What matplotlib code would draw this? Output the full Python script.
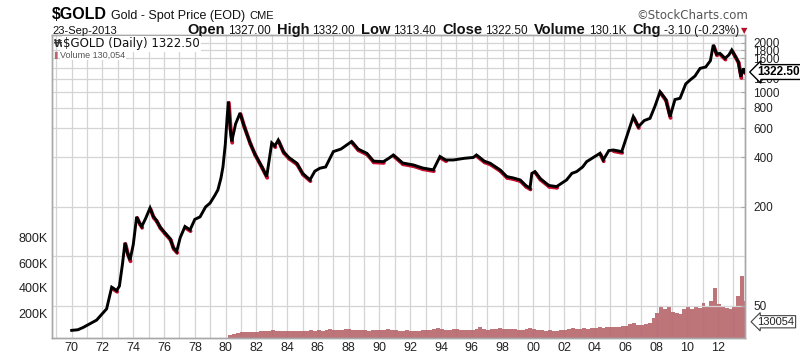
import matplotlib
matplotlib.use("Agg")
import matplotlib.pyplot as plt
import matplotlib.transforms as mtransforms
from matplotlib.collections import LineCollection
from matplotlib.ticker import FixedLocator, NullLocator
import numpy as np

# ---------------- data ----------------
price_years = [
    1970.00, 1970.40, 1970.75, 1971.20, 1971.62, 1972.00, 1972.27, 1972.60, 1972.92, 1973.10,
    1973.30, 1973.46, 1973.62, 1973.79, 1974.00, 1974.22, 1974.40, 1974.55, 1974.80, 1975.09,
    1975.30, 1975.50, 1975.74, 1976.06, 1976.40, 1976.60, 1976.82, 1977.05, 1977.36, 1977.69,
    1978.00, 1978.34, 1978.70, 1978.99, 1979.30, 1979.50, 1979.70, 1979.83, 1979.98, 1980.10,
    1980.18, 1980.30, 1980.40, 1980.65, 1980.94, 1981.20, 1981.59, 1981.90, 1982.35, 1982.67,
    1983.00, 1983.20, 1983.42, 1983.75, 1984.10, 1984.62, 1985.00, 1985.48, 1985.80, 1986.13,
    1986.50, 1987.00, 1987.50, 1988.19, 1988.60, 1989.17, 1989.60, 1990.25, 1990.60, 1990.90,
    1991.50, 1992.20, 1992.80, 1993.50, 1993.93, 1994.30, 1994.80, 1995.50, 1996.10, 1996.30,
    1996.80, 1997.18, 1997.83, 1998.26, 1998.70, 1999.13, 1999.50, 1999.78, 1999.90, 2000.10,
    2000.43, 2001.00, 2001.51, 2002.16, 2002.50, 2002.81, 2003.20, 2003.46, 2003.90, 2004.33,
    2004.54, 2004.90, 2005.19, 2005.74, 2006.06, 2006.49, 2006.82, 2007.20, 2007.58, 2007.90,
    2008.23, 2008.60, 2008.88, 2009.20, 2009.53, 2009.90, 2010.18, 2010.50, 2010.83, 2011.20,
    2011.50, 2011.69, 2011.90, 2012.12, 2012.45, 2012.70, 2012.89, 2013.10, 2013.31, 2013.48,
    2013.64, 2013.73,
]
price_close = [
    35.5, 35.8, 37.0, 39.0, 41.0, 45.0, 48.0, 65.0, 62.0, 66.0,
    90.0, 121, 105, 95, 118, 174, 160, 152, 170, 197,
    175, 166, 151, 139, 128, 113, 107, 130, 152, 145,
    168, 174, 200, 211, 235, 254, 300, 351, 480, 700,
    873, 600, 500, 640, 745, 620, 490, 420, 351, 306,
    490, 470, 510, 434, 400, 369, 320, 292, 330, 344,
    350, 434, 450, 500, 450, 424, 380, 377, 395, 414,
    370, 360, 345, 336, 405, 386, 386, 395, 400, 414,
    380, 369, 336, 306, 300, 292, 270, 260, 320, 328,
    298, 270, 266, 292, 320, 328, 350, 377, 400, 424,
    386, 440, 444, 434, 535, 708, 615, 670, 692, 820,
    1004, 900, 708, 900, 916, 1120, 1183, 1250, 1392, 1420,
    1550, 1932, 1700, 1718, 1602, 1680, 1800, 1660, 1528, 1239,
    1390, 1322.5,
]

# quarterly volume (thousands), starting at the first volume bar
volume_start_year = 1980.18
volume_k = [
    25, 35, 40, 45,   50, 48, 52, 50,   55, 60, 58, 62,   60, 58, 55, 57,
    55, 58, 60, 56,   58, 62, 60, 64,   60, 65, 70, 66,   62, 68, 75, 70,
    65, 62, 66, 64,   60, 63, 65, 62,   66, 70, 64, 62,   60, 58, 62, 60,
    58, 60, 62, 64,   68, 75, 80, 70,   66, 68, 72, 70,   64, 62, 66, 68,
    75, 90, 72, 68,   70, 74, 78, 72,   76, 72, 70, 68,   66, 70, 80, 74,
    68, 64, 60, 62,   60, 58, 64, 66,   70, 78, 74, 72,   80, 76, 84, 82,
    88, 84, 90, 92,   86, 90, 94, 100,  110, 120, 104, 108, 115, 120, 160, 200,
    260, 230, 250, 210, 200, 190, 230, 260, 230, 250, 240, 280, 260, 300, 400, 270,
    250, 240, 230, 260, 340, 500, 300, 130,
]

x_tick_years = list(range(1970, 2013, 2))
price_grid = [50, 100, 200, 400, 600, 800, 1000, 1200, 1400, 1600, 1800, 2000]
price_labels = [50, 200, 400, 600, 800, 1000, 1200, 1600, 1800, 2000]
vol_ticks_k = [200, 400, 600, 800]

last_close = "1322.50"
last_volume = "130054"

# ---------------- figure ----------------
W, H = 800, 359
fig = plt.figure(figsize=(W / 100, H / 100), dpi=100)
fig.patch.set_facecolor("white")
FONT = ["Liberation Sans", "DejaVu Sans"]
plt.rcParams["font.family"] = FONT

L, R, T, B = 52, 745, 35, 338
rect = [L / W, 1 - B / H, (R - L) / W, (B - T) / H]
axv = fig.add_axes(rect)  # volume (left axis)
axp = axv.twinx()         # price (right axis, log)

xmin, xmax = 1968.72, 2013.75
grid_c = "#d4d4d4"
spine_c = "#a8a8a8"

# volume
vol_x = [volume_start_year + 0.25 * i for i in range(len(volume_k))]
axv.bar(vol_x, [v * 1000 for v in volume_k], width=0.25, align="edge",
        color="#b6666c", edgecolor="none", alpha=0.9, zorder=2)
axv.set_xlim(xmin, xmax)
axv.set_ylim(0, (B - T) * 8000)
axv.set_yticks([v * 1000 for v in vol_ticks_k])
axv.set_yticklabels([f"{v}K" for v in vol_ticks_k], fontsize=9, color="#222222")
axv.tick_params(axis="y", length=0, pad=3)
for yr in range(1969, 2014):
    axv.axvline(yr, color=grid_c, lw=0.9, zorder=0)

# price
axp.set_yscale("log")
axp.set_ylim(31.9, 2222)
axp.set_xlim(xmin, xmax)
axp.yaxis.set_major_locator(FixedLocator(price_labels))
axp.yaxis.set_minor_locator(NullLocator())
axp.set_yticklabels([str(v) for v in price_labels], fontsize=8.5, color="#222222")
axp.tick_params(axis="y", which="major", length=3, direction="in", color=spine_c, pad=6)
for p in price_grid:
    axp.axhline(p, color=grid_c, lw=0.9, zorder=0)

# red marks on falling stretches, slightly below; black line on top
red_tr = mtransforms.offset_copy(axp.transData, fig=fig, x=0.5, y=-1.2, units="dots")
segs = [[(price_years[i], price_close[i]), (price_years[i + 1], price_close[i + 1])]
        for i in range(len(price_years) - 1) if price_close[i + 1] < price_close[i]]
lc = LineCollection(segs, colors="#c8102e", linewidths=2.8, transform=red_tr, zorder=3,
                    capstyle="round")
axp.add_collection(lc)
axp.plot(price_years, price_close, color="black", lw=2.1, zorder=4, solid_joinstyle="miter")

axv.set_xticks(x_tick_years)
axv.set_xticklabels([f"{y % 100:02d}" for y in x_tick_years], fontsize=9, color="#222222")
axv.tick_params(axis="x", length=0, pad=3)
axp.tick_params(axis="x", length=0)

for ax in (axv, axp):
    for s in ax.spines.values():
        s.set_color(spine_c)
        s.set_linewidth(1.0)

# value boxes on the right
axp.annotate(last_close, xy=(1.0, 1322.5), xycoords=("axes fraction", "data"),
             xytext=(9, 0), textcoords="offset points", va="center", ha="left",
             fontsize=8.5, fontweight="bold", color="black", zorder=10,
             bbox=dict(boxstyle="larrow,pad=0.12", fc="white", ec="black", lw=1.0))
axv.annotate(last_volume, xy=(1.0, 130054), xycoords=("axes fraction", "data"),
             xytext=(9, 0), textcoords="offset points", va="center", ha="left",
             fontsize=8, color="#222222",
             bbox=dict(boxstyle="larrow,pad=0.1", fc="white", ec="#444444", lw=0.8))

# ---------------- header texts ----------------
def fx(x):
    return x / W

def fy(y):
    return 1 - y / H

fig.canvas.draw()
renderer = fig.canvas.get_renderer()

def run(pieces, y, x0=None, x1=None):
    """Lay text pieces side by side at baseline y (pixels from top)."""
    made = []
    for s, kw, gap in pieces:
        t = fig.text(0, fy(y), s, va="baseline", **kw)
        w = t.get_window_extent(renderer).width
        made.append((t, w, gap))
    total = sum(w + g for _, w, g in made)
    cur = x0 if x0 is not None else x1 - total
    for t, w, g in made:
        t.set_x(fx(cur))
        cur += w + g

run([("$GOLD", dict(fontsize=11.5, fontweight="bold", color="black"), 4),
     ("Gold - Spot Price (EOD)", dict(fontsize=9, color="#111111"), 4),
     ("CME", dict(fontsize=8, color="#111111"), 0)], 19, x0=52)

fig.text(fx(52), fy(34), "23-Sep-2013", fontsize=8, va="baseline", color="#111111")
fig.text(fx(748), fy(19), "\u00a9StockCharts.com", fontsize=8.5, va="baseline",
         ha="right", color="#555555", family=["DejaVu Sans"])

B_ = dict(fontsize=10.5, fontweight="bold", color="#111111")
N_ = dict(fontsize=8.5, color="#111111")
run([("Open", B_, 3), ("1327.00", N_, 6), ("High", B_, 3), ("1332.00", N_, 6),
     ("Low", B_, 3), ("1313.40", N_, 6), ("Close", B_, 3), ("1322.50", N_, 6),
     ("Volume", B_, 3), ("130.1K", N_, 6), ("Chg", B_, 3), ("-3.10 (-0.23%)", N_, 0)],
    34, x1=739)
fig.text(fx(744), fy(31), "\u25bc", fontsize=6, ha="center", va="center", color="#b0102a",
         family=["DejaVu Sans"])

# legend inside plot
fig.text(fx(54), fy(44), "\u20a9", fontsize=7, va="center", color="#333333",
         family=["DejaVu Sans"], fontweight="bold")
fig.text(fx(63), fy(44), "$GOLD (Daily) 1322.50", fontsize=8.5, va="center",
         color="#111111", family=["DejaVu Sans"],
         bbox=dict(boxstyle="square,pad=0.1", fc="white", ec="none"))
fig.text(fx(54), fy(55), "\u258c", fontsize=5, va="center", color="#b6666c",
         family=["DejaVu Sans"])
fig.text(fx(60), fy(55), "Volume 130,054", fontsize=6.5, va="center", color="#555555",
         bbox=dict(boxstyle="square,pad=0.05", fc="white", ec="none"))

fig.savefig("out.png", dpi=100)
